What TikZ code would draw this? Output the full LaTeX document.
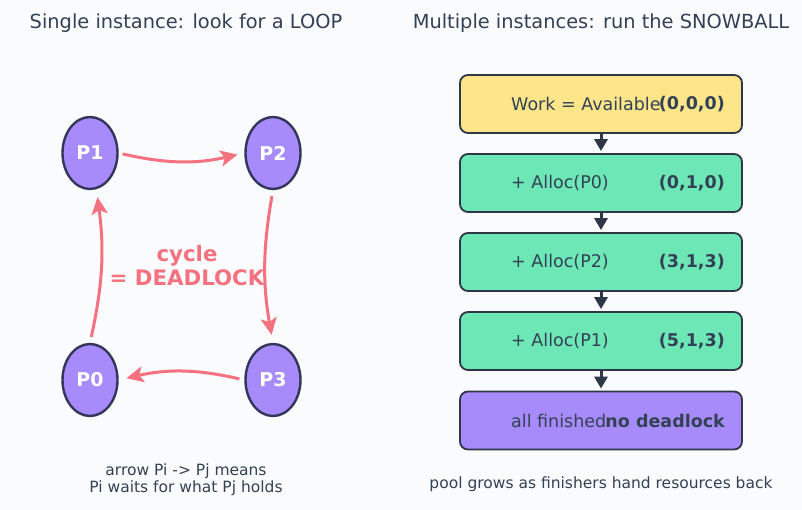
\documentclass[tikz,border=0pt]{standalone}
\usepackage{fontspec}
\setmainfont{DejaVu Sans}
\usetikzlibrary{arrows.meta,shapes.geometric}
\definecolor{bg}{HTML}{FAFBFD}
\definecolor{ink}{HTML}{334155}
\definecolor{edge}{HTML}{2D3748}
\definecolor{proc}{HTML}{A78BFA}
\definecolor{procedge}{HTML}{33365A}
\definecolor{pinkc}{HTML}{F4717F}
\definecolor{yel}{HTML}{FDE68A}
\definecolor{grn}{HTML}{6EE7B7}
\tikzset{
  title/.style={text=ink, font=\fontsize{19.4}{23}\selectfont, inner sep=0},
  procnode/.style={ellipse, draw=procedge, line width=2.4pt, fill=proc, minimum width=55pt, minimum height=72pt, inner sep=0, text=white, font=\fontsize{19}{22}\selectfont\bfseries},
  waitarrow/.style={draw=pinkc, line width=3pt, -{Stealth[length=17pt,width=16pt,inset=4pt]}},
  stepbox/.style={draw=edge, line width=1.8pt, rounded corners=8pt, minimum width=282pt, minimum height=58pt, inner sep=0},
  boxtext/.style={text=ink, font=\fontsize{17.5}{20}\selectfont, inner sep=0},
  boxval/.style={text=ink, font=\fontsize{17.5}{20}\selectfont\bfseries, inner sep=0},
  flowarrow/.style={draw=edge, line width=3pt, -{Triangle[length=12pt,width=13pt]}, shorten >=2pt},
  caption/.style={text=ink, font=\fontsize{15.5}{17}\selectfont, inner sep=0, align=center}
}
\begin{document}
\begin{tikzpicture}[x=1pt,y=-1pt]
\fill[bg] (0,0) rectangle (802,510);
\useasboundingbox (0,0) rectangle (802,510);

% titles
\node[title] (t1) at (186,23) {Single instance: look for a LOOP};
\node[title] (t2) at (601,23) {Multiple instances: run the SNOWBALL};

% processes
\node[procnode] (p1) at (90,153) {P1};
\node[procnode] (p2) at (273,153) {P2};
\node[procnode] (p0) at (90,380) {P0};
\node[procnode] (p3) at (273,380) {P3};

\draw[waitarrow, shorten <=4pt, shorten >=7pt] (p1.east) to[bend right=13] (p2.west);
\draw[waitarrow, shorten <=6pt, shorten >=8pt] (p2.south) to[bend right=10] (p3.north);
\draw[waitarrow, shorten <=5pt, shorten >=8pt] (p3.west) to[bend right=13] (p0.east);
\draw[waitarrow, shorten <=6pt, shorten >=8pt] (p0.north) to[bend right=10] (p1.-80);

\node[text=pinkc, font=\fontsize{21.3}{24}\selectfont\bfseries, align=center, inner sep=0] (cyc) at (187,266) {cycle\\= DEADLOCK};

\node[caption] (c1) at (186,480) {arrow Pi -> Pj means\\Pi waits for what Pj holds};

% snowball boxes
\node[stepbox, fill=yel] (b1) at (601,104) {};
\node[stepbox, fill=grn] (b2) at (601,183) {};
\node[stepbox, fill=grn] (b3) at (601,262) {};
\node[stepbox, fill=grn] (b4) at (601,341) {};
\node[stepbox, fill=proc] (b5) at (601,420.5) {};

\node[boxtext, anchor=west] (l1) at (511,104) {Work = Available};
\node[boxval, anchor=east] (v1) at (725,104) {(0,0,0)};
\node[boxtext, anchor=west] (l2) at (511,183) {+ Alloc(P0)};
\node[boxval, anchor=east] (v2) at (725,183) {(0,1,0)};
\node[boxtext, anchor=west] (l3) at (511,262) {+ Alloc(P2)};
\node[boxval, anchor=east] (v3) at (725,262) {(3,1,3)};
\node[boxtext, anchor=west] (l4) at (511,341) {+ Alloc(P1)};
\node[boxval, anchor=east] (v4) at (725,341) {(5,1,3)};
\node[boxtext, anchor=west] (l5) at (511,420.5) {all finished};
\node[boxval, anchor=east] (v5) at (725,420.5) {no deadlock};

\draw[flowarrow] (b1) -- (b2);
\draw[flowarrow] (b2) -- (b3);
\draw[flowarrow] (b3) -- (b4);
\draw[flowarrow] (b4) -- (b5);

\node[caption] (c2) at (601,484) {pool grows as finishers hand resources back};
\end{tikzpicture}
\end{document}
